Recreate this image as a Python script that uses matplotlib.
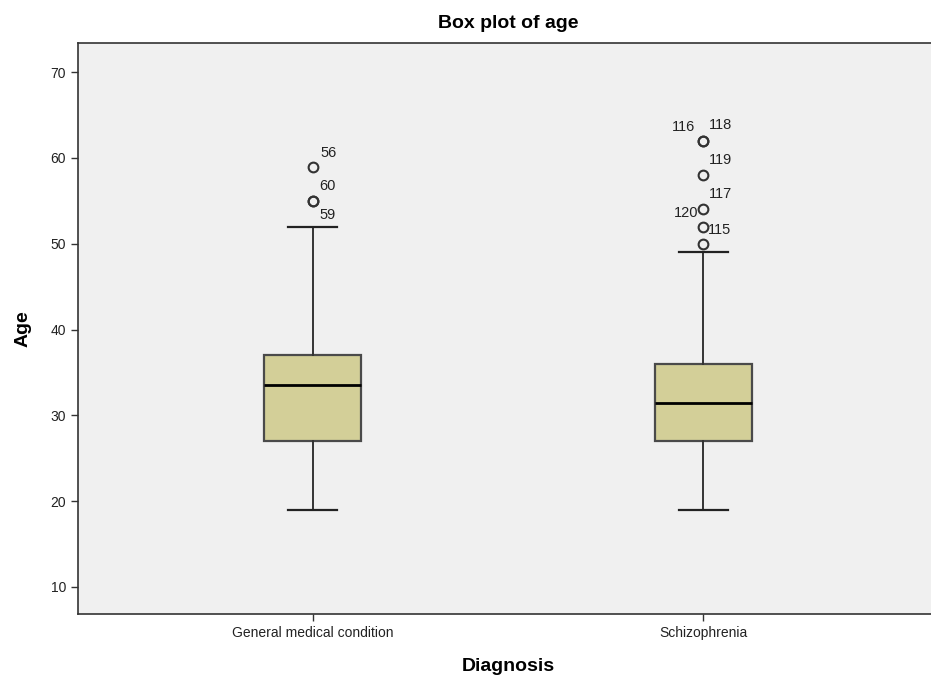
import numpy as np
import matplotlib.pyplot as plt

plt.rcParams['font.family'] = ['Liberation Sans', 'DejaVu Sans']

groups = ['General medical condition', 'Schizophrenia']
q1 = [27, 27]
medians = [33.5, 31.5]
q3 = [37, 36]
whisk_lo = [19, 19]
whisk_hi = [52, 49]
outliers = [[59, 55, 55], [62, 62, 58, 54, 52, 50]]
outlier_ids = [['56', '60', '59'], ['116', '118', '119', '117', '120', '115']]

# label placement around each outlier point (points offset, alignment)
label_pos = [
    [((6, 5), 'left'), ((5, 6), 'left'), ((5, -15), 'left')],
    [((-6, 5), 'right'), ((4, 6), 'left'), ((4, 6), 'left'),
     ((4, 6), 'left'), ((-4, 5), 'right'), ((3, 5), 'left')],
]

stats = []
for i in range(len(groups)):
    stats.append({'q1': q1[i], 'med': medians[i], 'q3': q3[i],
                  'whislo': whisk_lo[i], 'whishi': whisk_hi[i],
                  'fliers': outliers[i], 'label': groups[i]})

fig = plt.figure(figsize=(9.31, 6.77), dpi=100)
ax = fig.add_axes([78 / 931, 1 - 614 / 677, 860 / 931, 571 / 677])
ax.set_facecolor('#f0f0f0')

ax.bxp(stats, positions=[1, 2], widths=0.248, patch_artist=True,
       boxprops=dict(facecolor='#d3cf98', edgecolor='#4a4a4a', linewidth=1.6),
       medianprops=dict(color='black', linewidth=2),
       whiskerprops=dict(color='#333333', linewidth=1.4),
       capprops=dict(color='#222222', linewidth=1.6),
       capwidths=0.125,
       flierprops=dict(marker='o', markersize=7, markerfacecolor='none',
                       markeredgecolor='#333333', markeredgewidth=1.5))

for i in range(len(groups)):
    for v, lab, (off, ha) in zip(outliers[i], outlier_ids[i], label_pos[i]):
        ax.annotate(lab, (i + 1, v), xytext=off, textcoords='offset points',
                    ha=ha, va='bottom', fontsize=10.5, color='#222222')

ax.set_xlim(0.4, 2.6)
ax.set_ylim(6.85, 73.4)
ax.set_yticks([10, 20, 30, 40, 50, 60, 70])
ax.set_xticks([1, 2])
ax.set_xticklabels(groups)
ax.tick_params(axis='both', direction='out', length=5, width=1, color='#333333',
               labelsize=10, labelcolor='#222222')
for s in ax.spines.values():
    s.set_color('#333333')
    s.set_linewidth(1.2)

ax.set_title('Box plot of age', fontsize=14, fontweight='bold', pad=11)
ax.set_xlabel('Diagnosis', fontsize=14, fontweight='bold', labelpad=13)
ax.set_ylabel('Age', fontsize=14, fontweight='bold', labelpad=14)

fig.savefig('out.png', dpi=100)
